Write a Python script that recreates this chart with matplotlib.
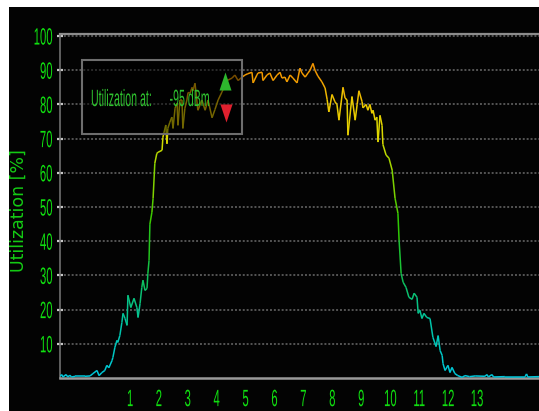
import matplotlib
matplotlib.use('Agg')
import numpy as np
import matplotlib.pyplot as plt
from matplotlib import patheffects
from matplotlib.collections import LineCollection
from matplotlib.colors import LinearSegmentedColormap
from matplotlib.patches import Rectangle
from matplotlib.transforms import Affine2D

# spectrum sweep: channel position and measured utilization (%)
channel = [
    -1.42, -1.36, -1.32, -1.21, -1.15, -1.08, -1.02, -0.90, -0.56, -0.38,
    -0.28, -0.14, -0.07, 0.03, 0.13, 0.20, 0.27, 0.38, 0.41, 0.48,
    0.55, 0.58, 0.65, 0.72, 0.76, 0.83, 0.90, 0.93, 1.03, 1.14,
    1.24, 1.28, 1.35, 1.41, 1.45, 1.52, 1.59, 1.62, 1.66, 1.69,
    1.76, 1.80, 1.86, 1.93, 1.97, 2.11, 2.14, 2.24, 2.28, 2.31,
    2.38, 2.45, 2.49, 2.56, 2.63, 2.66, 2.73, 2.80, 2.83, 2.90,
    2.97, 3.01, 3.08, 3.15, 3.18, 3.25, 3.35, 3.49, 3.60, 3.70,
    3.84, 3.94, 4.05, 4.18, 4.36, 4.53, 4.63, 4.74, 4.88, 4.98,
    5.08, 5.22, 5.26, 5.39, 5.43, 5.57, 5.60, 5.74, 5.84, 5.95,
    6.09, 6.19, 6.26, 6.36, 6.43, 6.54, 6.64, 6.78, 6.88, 6.95,
    7.06, 7.16, 7.23, 7.33, 7.40, 7.50, 7.64, 7.75, 7.82, 7.88,
    7.99, 8.09, 8.16, 8.23, 8.37, 8.44, 8.51, 8.54, 8.68, 8.79,
    8.86, 8.92, 9.03, 9.06, 9.17, 9.23, 9.30, 9.37, 9.41, 9.48,
    9.54, 9.58, 9.65, 9.72, 9.75, 9.86, 9.96, 10.07, 10.17, 10.27,
    10.31, 10.38, 10.45, 10.55, 10.65, 10.76, 10.83, 10.93, 10.97, 11.03,
    11.10, 11.17, 11.27, 11.38, 11.48, 11.59, 11.66, 11.73, 11.80, 11.83,
    11.90, 12.00, 12.07, 12.14, 12.24, 12.34, 12.49, 12.59, 12.75, 12.94,
    13.28, 13.35, 13.40, 13.52, 13.58, 13.97, 14.67, 14.72, 14.76, 15.15,
]
utilization = [
    0.5, 1.0, 0.3, 1.0, 0.3, 0.8, 0.3, 0.5, 0.5, 0.6,
    1.3, 2.2, 0.7, 1.6, 2.2, 3.7, 3.0, 5.1, 6.0, 9.0,
    11.0, 10.4, 12.4, 16.2, 18.9, 17.4, 15.4, 24.2, 20.6, 23.3,
    20.6, 17.7, 21.8, 26.5, 28.6, 25.6, 26.2, 30.6, 34.4, 45.0,
    48.5, 52.5, 62.8, 65.7, 66.0, 66.6, 70.4, 74.0, 68.5, 73.0,
    74.8, 76.3, 73.0, 78.9, 80.4, 73.9, 81.3, 81.3, 73.0, 78.9,
    81.3, 83.5, 83.3, 85.0, 84.0, 86.2, 78.3, 81.3, 78.3, 81.3,
    76.1, 78.5, 81.3, 83.6, 87.0, 87.7, 88.6, 87.0, 88.0, 88.6,
    89.0, 89.4, 86.3, 88.6, 89.2, 89.4, 87.0, 88.6, 89.2, 87.0,
    88.6, 89.4, 87.7, 88.0, 86.6, 88.6, 87.7, 86.3, 90.6, 89.2,
    88.0, 89.2, 90.0, 92.0, 90.0, 88.3, 86.6, 84.8, 81.5, 77.8,
    82.9, 80.8, 80.0, 75.4, 85.0, 81.9, 81.3, 71.0, 82.3, 75.4,
    80.0, 84.0, 80.8, 79.0, 80.0, 78.3, 80.0, 77.4, 78.3, 75.4,
    76.3, 69.0, 76.8, 73.9, 68.3, 65.2, 64.3, 60.8, 52.6, 48.2,
    40.3, 30.6, 28.0, 26.5, 23.6, 23.0, 24.8, 23.6, 18.9, 19.8,
    17.4, 18.9, 17.7, 17.4, 11.9, 9.2, 12.4, 8.0, 6.6, 4.2,
    2.2, 3.7, 1.6, 3.1, 1.3, 0.7, 0.2, 0.7, 0.4, 0.6,
    0.5, 1.0, 0.3, 1.0, 0.3, 0.4, 0.4, 1.2, 0.3, 0.4,
]
xtick_channels = list(range(1, 14))
ytick_values = list(range(10, 101, 10))
readout_label = 'Utilization at:'
readout_level = '-95 dBm'

LCD_GREEN = '#10e010'
DIM_GREEN = '#2fc22f'
LCD_FONT = ['Liberation Sans', 'DejaVu Sans']


class Squeeze(patheffects.AbstractPathEffect):
    """Narrow the glyphs horizontally, for a tall condensed look."""

    def __init__(self, sx=0.5, anchor='center'):
        super().__init__()
        self.sx = sx
        self.anchor = anchor

    def draw_path(self, renderer, gc, tpath, affine, rgbFace=None):
        ext = tpath.get_extents()
        cx = {'left': ext.x0, 'center': (ext.x0 + ext.x1) / 2,
              'right': ext.x1}[self.anchor]
        squeeze = Affine2D().translate(-cx, 0).scale(self.sx, 1).translate(cx, 0)
        renderer.draw_path(gc, tpath, squeeze + affine, rgbFace)


fig = plt.figure(figsize=(5.39, 4.11), dpi=100, facecolor='white')
fig.add_artist(Rectangle((9 / 539, 0), 1 - 9 / 539, 1 - 7 / 411,
                         transform=fig.transFigure, facecolor='#030303',
                         edgecolor='none', zorder=-5))

ax = fig.add_axes([60 / 539, 33 / 411, 479 / 539, 344 / 411])
ax.set_facecolor('#030303')
ax.set_xlim(-1.42, 15.15)
ax.set_ylim(0, 100.6)

# trace coloured by level: cyan at the floor through green/yellow to orange
cmap = LinearSegmentedColormap.from_list('level', [
    (0.00, '#00c8dc'), (0.15, '#00c4a8'), (0.30, '#10be50'),
    (0.45, '#30c800'), (0.60, '#90d400'), (0.70, '#d8dc00'),
    (0.80, '#ecc800'), (0.88, '#f09a00'), (1.00, '#f08000')])
pts = np.column_stack([channel, utilization])
segs = np.stack([pts[:-1], pts[1:]], axis=1)
lc = LineCollection(segs, cmap=cmap, norm=plt.Normalize(0, 100),
                    linewidths=1.1, zorder=3)
lc.set_array((pts[:-1, 1] + pts[1:, 1]) / 2)
ax.add_collection(lc)

# dotted grid
for v in ytick_values:
    ax.axhline(v, color='#555555', lw=1.4, ls=(0, (1, 1)), zorder=1)

for side, col, lw in [('top', '#8c8c8c', 1.6), ('bottom', '#9a9a9a', 1.8),
                      ('left', '#707070', 1.2), ('right', '#030303', 0)]:
    ax.spines[side].set_color(col)
    ax.spines[side].set_linewidth(lw)

ax.set_yticks(ytick_values)
ax.set_yticklabels([str(v) for v in ytick_values])
ax.set_xticks(xtick_channels)
ax.set_xticklabels([str(c) for c in xtick_channels])
ax.tick_params(axis='y', direction='inout', length=4, width=1.6,
               color='#c8c8c8', pad=3, labelcolor=LCD_GREEN)
ax.tick_params(axis='x', length=0, pad=8, labelcolor=LCD_GREEN)
for lbl in ax.get_yticklabels():
    lbl.set_fontfamily(LCD_FONT)
    lbl.set_fontsize(17)
    lbl.set_path_effects([Squeeze(0.48, 'right')])
for lbl in ax.get_xticklabels():
    lbl.set_fontfamily(LCD_FONT)
    lbl.set_fontsize(17)
    lbl.set_path_effects([Squeeze(0.48, 'center')])

ax.set_ylabel('Utilization [%]', color='#14cc14', fontsize=12.5,
              fontfamily='DejaVu Sans')
ax.yaxis.set_label_coords(-0.067, 0.488)

# readout box over the trace
ax.add_patch(Rectangle((0.046, 0.709), 0.334, 0.215, transform=ax.transAxes,
                       facecolor=(0, 0, 0, 0.5), edgecolor='#6e6e6e',
                       lw=1.5, zorder=4))
ax.text(0.0626, 0.808, f'{readout_label}      {readout_level}',
        transform=ax.transAxes, color=DIM_GREEN, fontsize=17,
        fontfamily=LCD_FONT, ha='left', va='center', zorder=5,
        path_effects=[Squeeze(0.45, 'left')])

tri_up = [(-1, -1.5), (1, -1.5), (0, 1.5)]
tri_down = [(-1, 1.5), (1, 1.5), (0, -1.5)]
ax.plot([0.345], [0.863], transform=ax.transAxes, marker=tri_up, ms=13,
        color='#2db62d', mec='none', zorder=6, clip_on=False)
ax.plot([0.347], [0.770], transform=ax.transAxes, marker=tri_down, ms=13,
        color='#e0202e', mec='none', zorder=6, clip_on=False)

fig.savefig('out.png', dpi=100, facecolor='white')
